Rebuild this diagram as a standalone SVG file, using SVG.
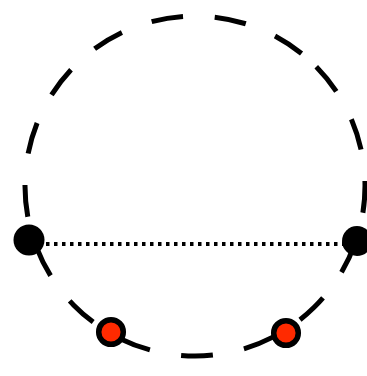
<svg xmlns="http://www.w3.org/2000/svg" width="367" height="376" viewBox="0 0 367 376">
  <style>
    .ring { fill: none; stroke: #000; stroke-width: 5; stroke-dasharray: 31.8 31.7; }
    .chord { fill: none; stroke: #000; stroke-width: 4; stroke-dasharray: 3.5 4.5; }
    .black { fill: #000; stroke: none; }
    .red { fill: #ff2a00; stroke: #000; stroke-width: 5.5; }
  </style>
  <rect width="367" height="376" fill="#fff"/>
  <g id="circle">
    <path class="ring" d="M316.26,66.85 A170,170 0 1,1 73.74,305.15 A170,170 0 1,1 316.26,66.85"/>
  </g>
  <g id="connectors">
    <line class="chord" x1="46" y1="244" x2="343" y2="244"/>
  </g>
  <g id="node-left">
    <circle class="black" cx="29" cy="240" r="15.5"/>
  </g>
  <g id="node-right">
    <circle class="black" cx="357" cy="241" r="15"/>
  </g>
  <g id="node-red-left">
    <circle class="red" cx="111" cy="332" r="12.3"/>
  </g>
  <g id="node-red-right">
    <circle class="red" cx="286" cy="333" r="12.3"/>
  </g>
</svg>
